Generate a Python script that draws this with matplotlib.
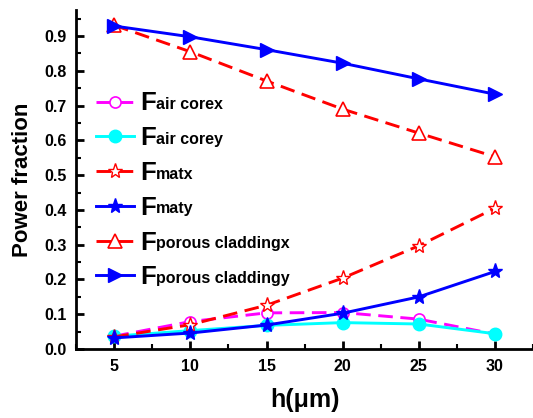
import matplotlib
matplotlib.use("Agg")
import matplotlib.pyplot as plt
from matplotlib.ticker import MultipleLocator

plt.rcParams['font.family'] = ['Liberation Sans', 'DejaVu Sans']
plt.rcParams['font.weight'] = 'bold'

h = [5, 10, 15, 20, 25, 30]
air_core_x = [0.037, 0.079, 0.104, 0.105, 0.086, 0.043]
air_core_y = [0.037, 0.053, 0.068, 0.076, 0.072, 0.044]
mat_x = [0.035, 0.070, 0.126, 0.204, 0.297, 0.405]
mat_y = [0.032, 0.046, 0.069, 0.103, 0.150, 0.223]
porous_x = [0.931, 0.855, 0.771, 0.690, 0.621, 0.553]
porous_y = [0.929, 0.898, 0.861, 0.822, 0.777, 0.733]

subscripts = ["air corex", "air corey", "matx", "maty",
              "porous claddingx", "porous claddingy"]

fig = plt.figure(figsize=(5.33, 4.18), dpi=100)
ax = fig.add_axes([0.143, 0.165, 0.857, 0.811])

lw = 2.1
dash = (0, (5, 2.6))
ax.plot(h, air_core_x, color='#ff00ff', ls=dash, lw=lw, marker='o', ms=8,
        mfc='white', mec='#ff00ff', mew=1.2)
ax.plot(h, air_core_y, color='#00ffff', ls='-', lw=lw, marker='o', ms=9,
        mfc='#00ffff', mec='#00ffff')
ax.plot(h, mat_x, color='#ff0000', ls=dash, lw=lw, marker='*', ms=11,
        mfc='white', mec='#ff0000', mew=1.0)
ax.plot(h, mat_y, color='#0000ff', ls='-', lw=lw, marker='*', ms=11,
        mfc='#0000ff', mec='#0000ff')
ax.plot(h, porous_x, color='#ff0000', ls=dash, lw=lw, marker='^', ms=10,
        mfc='white', mec='#ff0000', mew=1.2)
ax.plot(h, porous_y, color='#0000ff', ls='-', lw=lw, marker='>', ms=10,
        mfc='#0000ff', mec='#0000ff')

ax.set_xlim(2.5, 32.5)
ax.set_ylim(0.0, 0.975)
ax.xaxis.set_major_locator(MultipleLocator(5))
ax.xaxis.set_minor_locator(MultipleLocator(2.5))
ax.yaxis.set_major_locator(MultipleLocator(0.1))
ax.yaxis.set_minor_locator(MultipleLocator(0.05))
ax.yaxis.set_major_formatter(matplotlib.ticker.FormatStrFormatter('%.1f'))

for s in ['top', 'right']:
    ax.spines[s].set_visible(False)
for s in ['left', 'bottom']:
    ax.spines[s].set_linewidth(2.0)

ax.tick_params(which='major', direction='in', length=6, width=2, labelsize=11.5, pad=7)
ax.tick_params(which='minor', direction='in', length=3.5, width=1.5)
for lab in ax.get_xticklabels() + ax.get_yticklabels():
    lab.set_fontweight('bold')

ax.set_xlabel('h(μm)', fontsize=18, fontweight='bold', labelpad=10)
ax.set_ylabel('Power fraction', fontsize=16, fontweight='bold', labelpad=8)

leg = ax.legend(['F'] * 6, loc='upper left', bbox_to_anchor=(0.02, 0.79),
                frameon=False, prop={'size': 18.5, 'weight': 'bold'},
                handlelength=1.5, handletextpad=0.22, labelspacing=0.42,
                borderaxespad=0.0)
fig.canvas.draw()
for txt, sub in zip(leg.get_texts(), subscripts):
    ax.annotate(sub, xy=(1, 0), xycoords=txt, xytext=(0.5, 2.5),
                textcoords='offset points', ha='left', va='bottom',
                fontsize=11.5, fontweight='bold')

fig.savefig('out.png', dpi=100)
